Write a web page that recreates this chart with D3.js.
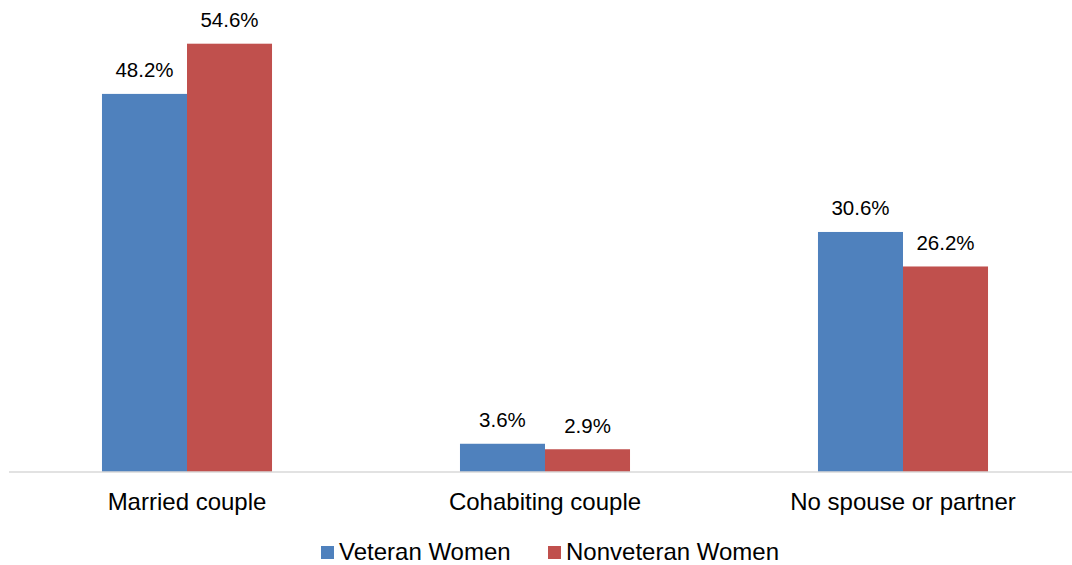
<!DOCTYPE html>
<html>
<head>
<meta charset="utf-8">
<script src="https://cdn.jsdelivr.net/npm/d3@7"></script>
<style>
  html, body { margin: 0; padding: 0; background: #fff; }
  svg { display: block; font-family: "Liberation Sans", Arial, sans-serif; }
</style>
</head>
<body>
<svg id="chart" width="1072" height="565"></svg>
<script>
// Household type of women, by veteran status
const categories = ["Married couple", "Cohabiting couple", "No spouse or partner"];
const seriesNames = ["Veteran Women", "Nonveteran Women"];
const veteranValues = [48.2, 3.6, 30.6];
const nonveteranValues = [54.6, 2.9, 26.2];
const seriesColors = ["#4F81BD", "#C0504D"];

const svg = d3.select("#chart");
const baseline = 472;

const x0 = d3.scaleBand()
  .domain(categories)
  .range([8, 1082])
  .paddingInner(0.525)
  .paddingOuter(0.2625);

const x1 = d3.scaleBand()
  .domain(seriesNames)
  .range([0, x0.bandwidth()]);

const y = d3.scaleLinear()
  .domain([0, 54.6])
  .range([baseline, 43.7]);

const rows = categories.map((c, i) => ({
  category: c,
  values: [
    { series: seriesNames[0], value: veteranValues[i] },
    { series: seriesNames[1], value: nonveteranValues[i] }
  ]
}));

const groups = svg.append("g").selectAll("g")
  .data(rows)
  .join("g")
  .attr("transform", d => `translate(${x0(d.category)},0)`);

groups.selectAll("rect")
  .data(d => d.values)
  .join("rect")
  .attr("x", d => x1(d.series))
  .attr("y", d => y(d.value))
  .attr("width", x1.bandwidth())
  .attr("height", d => baseline - y(d.value))
  .attr("fill", (d, i) => seriesColors[i]);

groups.selectAll("text.value")
  .data(d => d.values)
  .join("text")
  .attr("class", "value")
  .attr("x", d => x1(d.series) + x1.bandwidth() / 2)
  .attr("y", d => y(d.value) - 16.5)
  .attr("text-anchor", "middle")
  .attr("font-size", 20.5)
  .attr("fill", "#000")
  .text(d => d.value.toFixed(1) + "%");

// Category axis
const xAxis = svg.append("g")
  .attr("transform", `translate(0,${baseline})`)
  .call(d3.axisBottom(x0).tickSize(0).tickPadding(0));
xAxis.select(".domain").remove();
xAxis.append("line")
  .attr("x1", 9).attr("x2", 1072)
  .attr("stroke", "#d9d9d9").attr("stroke-width", 1.5);
xAxis.selectAll(".tick text")
  .attr("y", 38)
  .attr("dy", 0)
  .attr("font-size", 24)
  .attr("font-family", "Liberation Sans, Arial, sans-serif")
  .attr("fill", "#000");

// Legend
const legendItems = [
  { name: seriesNames[0], color: seriesColors[0], x: 321 },
  { name: seriesNames[1], color: seriesColors[1], x: 548 }
];
const legend = svg.append("g").selectAll("g")
  .data(legendItems)
  .join("g")
  .attr("transform", d => `translate(${d.x},546)`);
legend.append("rect")
  .attr("width", 13).attr("height", 13)
  .attr("fill", d => d.color);
legend.append("text")
  .attr("x", 18).attr("y", 14)
  .attr("font-size", 24)
  .attr("fill", "#000")
  .text(d => d.name);
</script>
</body>
</html>
